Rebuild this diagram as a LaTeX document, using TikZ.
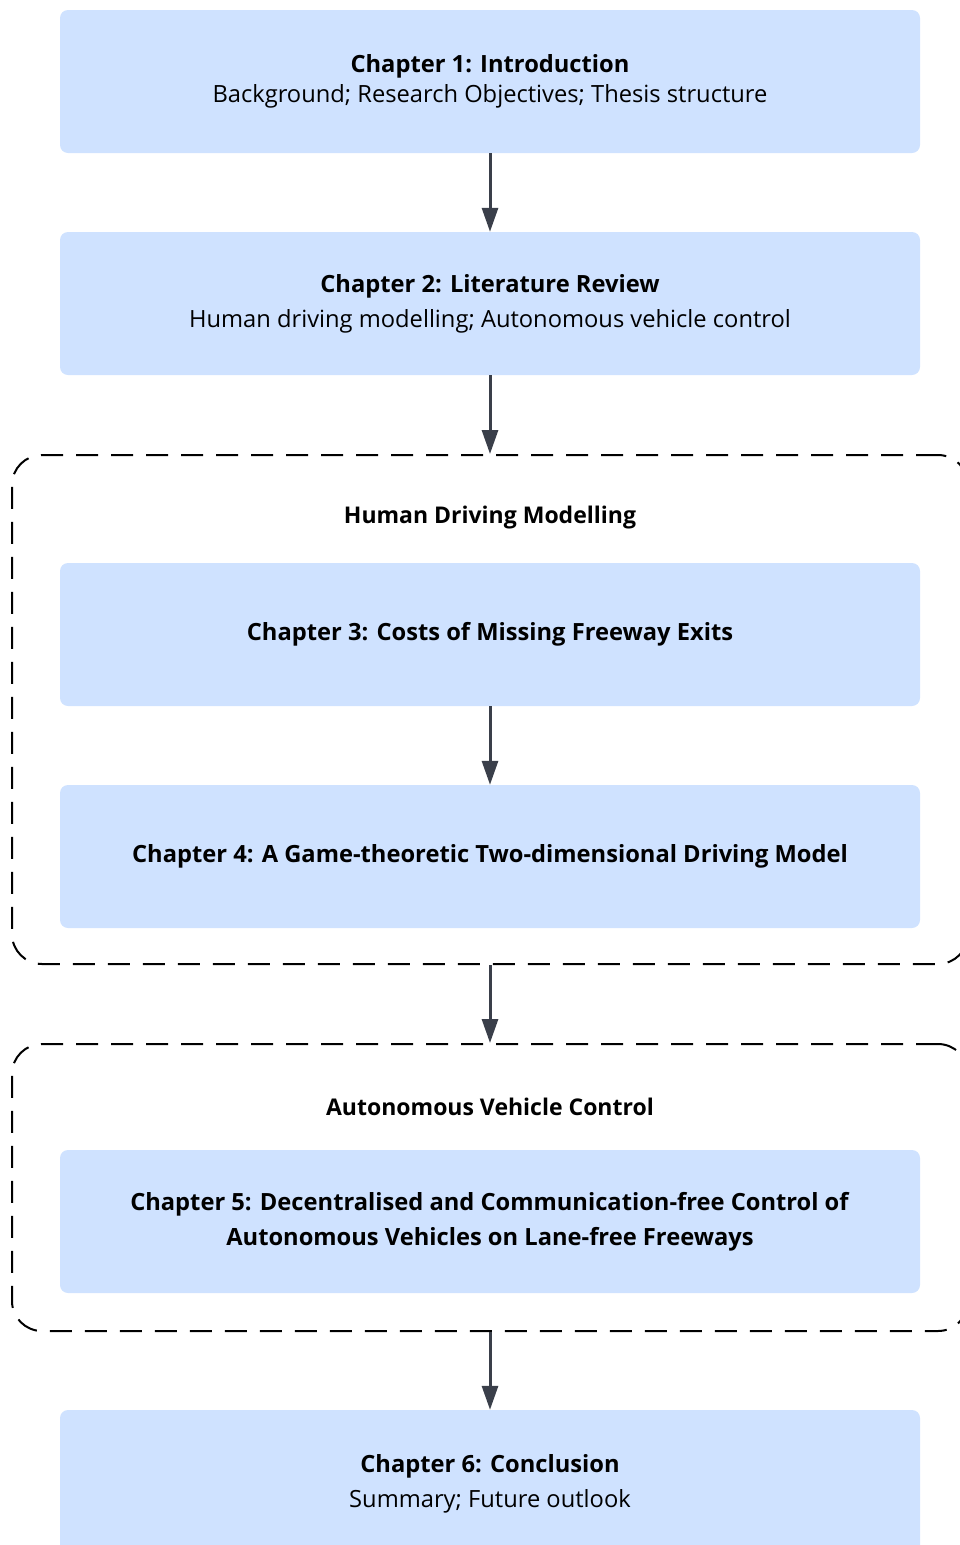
\documentclass[tikz,border=0pt]{standalone}
\usepackage{fontspec}
\setmainfont{Open Sans}
\usetikzlibrary{arrows.meta}
\definecolor{boxfill}{HTML}{CFE2FF}
\definecolor{arrowc}{HTML}{3A3F4A}
\tikzset{
  chapbox/.style={fill=boxfill, rounded corners=8pt, minimum width=860pt, minimum height=143pt, inner sep=0pt, align=center, font=\fontsize{23.7}{35}\selectfont},
  groupbox/.style={draw=black, line width=2pt, dash pattern=on 22pt off 13pt, rounded corners=30pt, minimum width=956pt, inner sep=0pt},
  grouplabel/.style={font=\fontsize{23}{34}\selectfont\bfseries},
  flow/.style={draw=arrowc, line width=3pt, -{Triangle[width=16pt,length=24pt]}}
}
\begin{document}
\begin{tikzpicture}[x=1pt,y=-1pt]
\useasboundingbox (0,0) rectangle (960,1545);
\clip (0,0) rectangle (960,1545);
\node[chapbox, font=\fontsize{23.7}{30}\selectfont] (c1) at (490,81.5) {\textbf{Chapter 1: Introduction}\\Background; Research Objectives; Thesis structure};
\node[chapbox] (c2) at (490,303.5) {\textbf{Chapter 2: Literature Review}\\Human driving modelling; Autonomous vehicle control};
\node[groupbox, minimum height=509pt] (g1) at (490,709.5) {};
\node[grouplabel] (l1) at (490,518) {Human Driving Modelling};
\node[chapbox] (c3) at (490,634.5) {\textbf{Chapter 3: Costs of Missing Freeway Exits}};
\node[chapbox] (c4) at (490,856.5) {\textbf{Chapter 4: A Game-theoretic Two-dimensional Driving Model}};
\node[groupbox, minimum height=287pt] (g2) at (490,1187.5) {};
\node[grouplabel] (l2) at (490,1107) {Autonomous Vehicle Control};
\node[chapbox] (c5) at (490,1221.5) {\textbf{Chapter 5: Decentralised and Communication-free Control of}\\\textbf{Autonomous Vehicles on Lane-free Freeways}};
\node[chapbox] (c6) at (490,1481.5) {};
\node[font=\fontsize{23.7}{35}\selectfont, align=center] (t6) at (490,1484) {\textbf{Chapter 6: Conclusion}\\Summary; Future outlook};
\draw[flow] (c1.south) -- (c2.north);
\draw[flow] (c2.south) -- (g1.north);
\draw[flow] (c3.south) -- (c4.north);
\draw[flow] (g1.south) -- (g2.north);
\draw[flow] (g2.south) -- (c6.north);
\end{tikzpicture}
\end{document}
